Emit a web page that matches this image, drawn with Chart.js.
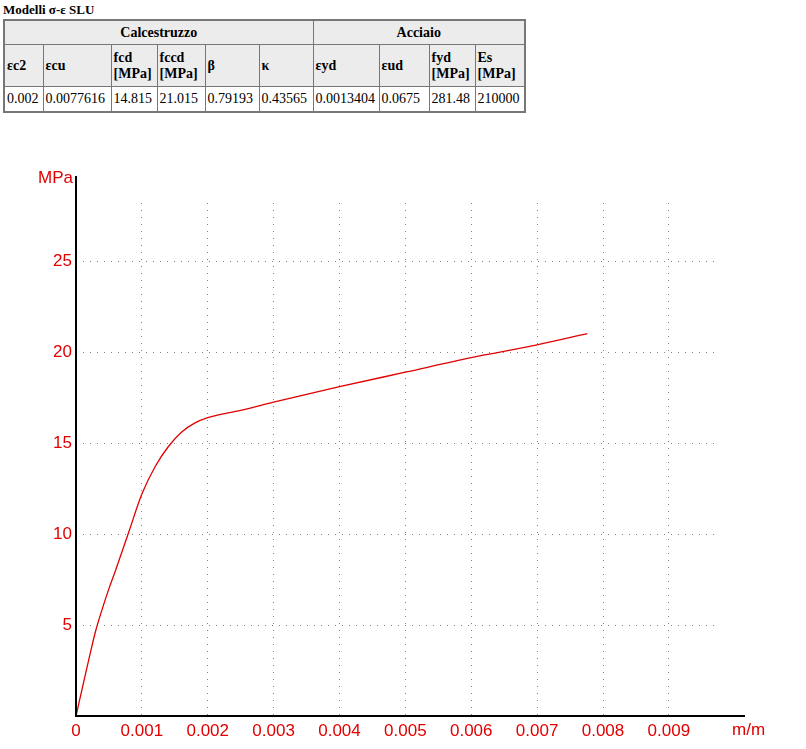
<!DOCTYPE html>
<html>
<head>
<meta charset="utf-8">
<script src="https://cdn.jsdelivr.net/npm/chart.js@4.4.0/dist/chart.umd.min.js"></script>
<style>
  body { margin: 0; background: #fff; width: 806px; height: 749px; overflow: hidden; position: relative; }
  #title { position: absolute; left: 3px; top: 2px; font: bold 13px "Liberation Serif", serif; }
  #tab { position: absolute; left: 3px; top: 19px; border-collapse: collapse; table-layout: fixed;
         border: 2px solid #777; font: 14px "Liberation Serif", serif; }
  #tab td, #tab th { border: 1px solid #777; padding: 0 2px; line-height: 16px; }
  #tab th { background: #ececec; text-align: left; font-weight: bold; }
  #tab th.grp { text-align: center; height: 23px; }
  #tab tr.h2 th { height: 41px; }
  #tab td { height: 24px; }
  #chart { position: absolute; left: 0; top: 0; pointer-events: none; }
</style>
</head>
<body>
<div id="title">Modelli σ-ε SLU</div>
<table id="tab">
  <colgroup>
    <col style="width:39px"><col style="width:68px"><col style="width:46px"><col style="width:48px"><col style="width:54px">
    <col style="width:54px"><col style="width:66px"><col style="width:50px"><col style="width:46px"><col style="width:50px">
  </colgroup>
  <tr><th class="grp" colspan="6">Calcestruzzo</th><th class="grp" colspan="4">Acciaio</th></tr>
  <tr class="h2">
    <th>εc2</th><th>εcu</th><th>fcd<br>[MPa]</th><th>fccd<br>[MPa]</th><th>β</th><th>κ</th>
    <th>εyd</th><th>εud</th><th>fyd<br>[MPa]</th><th>Es<br>[MPa]</th>
  </tr>
  <tr>
    <td>0.002</td><td>0.0077616</td><td>14.815</td><td>21.015</td><td>0.79193</td><td>0.43565</td>
    <td>0.0013404</td><td>0.0675</td><td>281.48</td><td>210000</td>
  </tr>
</table>
<canvas id="chart" width="806" height="749"></canvas>
<script>
"use strict";

// curva sigma-epsilon
const strain = [0, 0.0001, 0.0002, 0.0003, 0.0004, 0.0005, 0.0006, 0.0008, 0.001, 0.0012, 0.0014,
  0.0016, 0.0018, 0.002, 0.0025, 0.003, 0.004, 0.005, 0.006, 0.007, 0.0077616];
const stress = [0, 1.6, 3.2, 4.7, 5.9, 7.0, 8.0, 10.1, 12.2, 13.7, 14.8,
  15.6, 16.1, 16.4, 16.8, 17.25, 18.1, 18.9, 19.7, 20.4, 21.015];

const xTicks = [0, 0.001, 0.002, 0.003, 0.004, 0.005, 0.006, 0.007, 0.008, 0.009];
const yTicks = [5, 10, 15, 20, 25];
const xMax = 0.0097;
const yMax = 28.2;
const RED = "#e00000";
const GRID = "#808080";
const FONT = "'Liberation Sans', Arial, sans-serif";

const ctx = document.getElementById("chart").getContext("2d");

// assi estesi oltre la griglia + etichette unità
const axesPlugin = {
  id: "axesPlugin",
  afterDraw(chart) {
    const a = chart.chartArea;
    const c = chart.ctx;
    c.save();
    c.strokeStyle = "#000";
    c.lineWidth = 2;
    c.beginPath();
    c.moveTo(a.left, a.top - 27);
    c.lineTo(a.left, a.bottom);
    c.lineTo(a.right + 30, a.bottom);
    c.stroke();
    c.fillStyle = RED;
    c.font = "17px " + FONT;
    c.textBaseline = "middle";
    c.textAlign = "right";
    c.fillText("MPa", a.left - 3, a.top - 25);
    c.textAlign = "left";
    c.fillText("m/m", a.right + 17, a.bottom + 14);
    c.restore();
  }
};

new Chart(ctx, {
  type: "line",
  data: {
    datasets: [{
      data: strain.map((e, i) => ({ x: e, y: stress[i] })),
      borderColor: RED,
      borderWidth: 1.3,
      pointRadius: 0,
      cubicInterpolationMode: "monotone",
      fill: false
    }]
  },
  options: {
    responsive: false,
    animation: false,
    layout: { padding: { top: 203, right: 91, left: 0, bottom: 0 } },
    plugins: { legend: { display: false }, tooltip: { enabled: false } },
    scales: {
      x: {
        type: "linear",
        min: 0,
        max: xMax,
        afterBuildTicks: s => { s.ticks = xTicks.map(v => ({ value: v })); },
        afterFit: s => { s.height = 33; },
        border: { display: false, dash: [1, 6] },
        grid: {
          drawTicks: false,
          color: c => (c.tick && c.tick.value === 0 ? "rgba(0,0,0,0)" : GRID),
          lineWidth: 1
        },
        ticks: {
          color: RED,
          padding: 5,
          maxRotation: 0,
          autoSkip: false,
          font: { family: FONT, size: 17 },
          callback: v => String(v)
        }
      },
      y: {
        type: "linear",
        min: 0,
        max: yMax,
        afterBuildTicks: s => { s.ticks = yTicks.map(v => ({ value: v })); },
        afterFit: s => { s.width = 76; },
        border: { display: false, dash: [1, 6] },
        grid: { drawTicks: false, color: GRID, lineWidth: 1 },
        ticks: {
          color: RED,
          padding: 4,
          font: { family: FONT, size: 17 }
        }
      }
    }
  },
  plugins: [axesPlugin]
});
</script>
</body>
</html>
